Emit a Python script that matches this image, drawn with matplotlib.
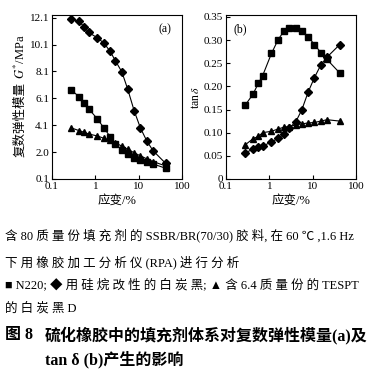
import matplotlib
matplotlib.use("Agg")
import matplotlib.pyplot as plt
from matplotlib.ticker import FixedLocator, FixedFormatter, NullLocator

plt.rcParams['font.family'] = ['Liberation Serif', 'Noto Sans CJK SC']
plt.rcParams['mathtext.fontset'] = 'stix'

# 应变 / %
strain = [0.28, 0.42, 0.56, 0.70, 1.12, 1.6, 2.2, 2.9, 4.1, 5.6, 7.9, 11.0, 15.4, 21.4, 42]

# (a) 复数弹性模量 G* / MPa
g_n220 = [6.72, 6.22, 5.78, 5.33, 4.56, 3.87, 3.25, 2.70, 2.28, 1.93, 1.69, 1.49, 1.34, 1.22, 0.90]
g_silane = [12.0, 11.82, 11.4, 11.0, 10.6, 10.19, 9.59, 8.90, 8.06, 6.77, 5.16, 3.89, 2.93, 2.21, 1.26]
g_tespt = [3.90, 3.70, 3.57, 3.45, 3.30, 3.12, 2.97, 2.78, 2.55, 2.30, 2.05, 1.82, 1.60, 1.40, 1.07]

# (b) tan delta
t_n220 = [0.160, 0.183, 0.207, 0.223, 0.271, 0.301, 0.320, 0.325, 0.325, 0.319, 0.307, 0.290, 0.273, 0.258, 0.229]
t_silane = [0.057, 0.064, 0.068, 0.071, 0.080, 0.088, 0.097, 0.110, 0.124, 0.149, 0.188, 0.219, 0.246, 0.263, 0.290]
t_tespt = [0.074, 0.087, 0.092, 0.100, 0.103, 0.108, 0.112, 0.113, 0.117, 0.119, 0.121, 0.122, 0.125, 0.128, 0.125]

g_ticks = [0.1, 2.1, 4.1, 6.1, 8.1, 10.1, 12.1]
g_ticklabels = ['0.1', '2.0', '4.1', '6.1', '8.1', '10.1', '12.1']
t_ticks = [0, 0.05, 0.10, 0.15, 0.20, 0.25, 0.30, 0.35]
t_ticklabels = ['0', '0.05', '0.10', '0.15', '0.20', '0.25', '0.30', '0.35']
x_ticks = [0.1, 1, 10, 100]
x_ticklabels = ['0.1', '1', '10', '100']

fig = plt.figure(figsize=(3.92, 3.76), dpi=100)
ax1 = fig.add_axes([52/392, 1-179/376, 130/392, 164/376])
ax2 = fig.add_axes([226/392, 1-179/376, 130/392, 164/376])

lw = 0.8
for ax, ys in ((ax1, (g_n220, g_silane, g_tespt)), (ax2, (t_n220, t_silane, t_tespt))):
    ax.plot(strain, ys[0], 'k-', marker='s', ms=4.3, lw=lw)
    ax.plot(strain, ys[1], 'k-', marker='D', ms=4.5, lw=lw)
    ax.plot(strain, ys[2], 'k-', marker='^', ms=4.8, lw=lw)
    ax.set_xscale('log')
    ax.set_xlim(0.1, 100)
    ax.xaxis.set_major_locator(FixedLocator(x_ticks))
    ax.xaxis.set_major_formatter(FixedFormatter(x_ticklabels))
    ax.xaxis.set_minor_locator(NullLocator())
    ax.tick_params(direction='in', length=3, width=0.8, labelsize=8, pad=2,
                   top=False, right=False)
    for s in ax.spines.values():
        s.set_linewidth(0.8)
    ax.set_xlabel('应变/%', fontsize=9, labelpad=3)

ax1.set_ylim(0.1, 12.3)
ax1.yaxis.set_major_locator(FixedLocator(g_ticks))
ax1.yaxis.set_major_formatter(FixedFormatter(g_ticklabels))
# ylabel in two pieces: CJK part below, G*/MPa above
fig.text(20/392, 1-82/376, '复数弹性模量', rotation=90, ha='center', va='top', fontsize=9)
fig.text(20/392, 1-82/376, ' $G^{*}$/MPa', rotation=90, ha='center', va='bottom', fontsize=9)
ax1.text(0.92, 0.95, '(a)', transform=ax1.transAxes, ha='right', va='top', fontsize=8.5)

ax2.set_ylim(0, 0.354)
ax2.yaxis.set_major_locator(FixedLocator(t_ticks))
ax2.yaxis.set_major_formatter(FixedFormatter(t_ticklabels))
ax2.set_ylabel(r'tan$\,\delta$', fontsize=8.5, labelpad=1)
ax2.text(0.06, 0.95, '(b)', transform=ax2.transAxes, ha='left', va='top', fontsize=8.5)

cap = dict(fontsize=9, ha='left', va='center')
fig.text(5/392, 1-235/376, '含 80 质 量 份 填 充 剂 的 SSBR/BR(70/30) 胶 料, 在 60 ℃ ,1.6 Hz', **cap)
fig.text(5/392, 1-262/376, '下 用 橡 胶 加 工 分 析 仪 (RPA) 进 行 分 析', **cap)
fig.text(5/392, 1-285/376, '■ N220; ◆ 用 硅 烷 改 性 的 白 炭 黑; ▲ 含 6.4 质 量 份 的 TESPT', **cap)
fig.text(5/392, 1-308/376, '的 白 炭 黑 D', **cap)
title = dict(fontsize=11.5, ha='left', va='center', fontweight='bold')
fig.text(5/392, 1-335/376, '图 8', **title)
fig.text(45/392, 1-335/376, '硫化橡胶中的填充剂体系对复数弹性模量(a)及', **title)
fig.text(45/392, 1-360/376, 'tan δ (b)产生的影响', **title)

fig.savefig('out.png', dpi=100)
